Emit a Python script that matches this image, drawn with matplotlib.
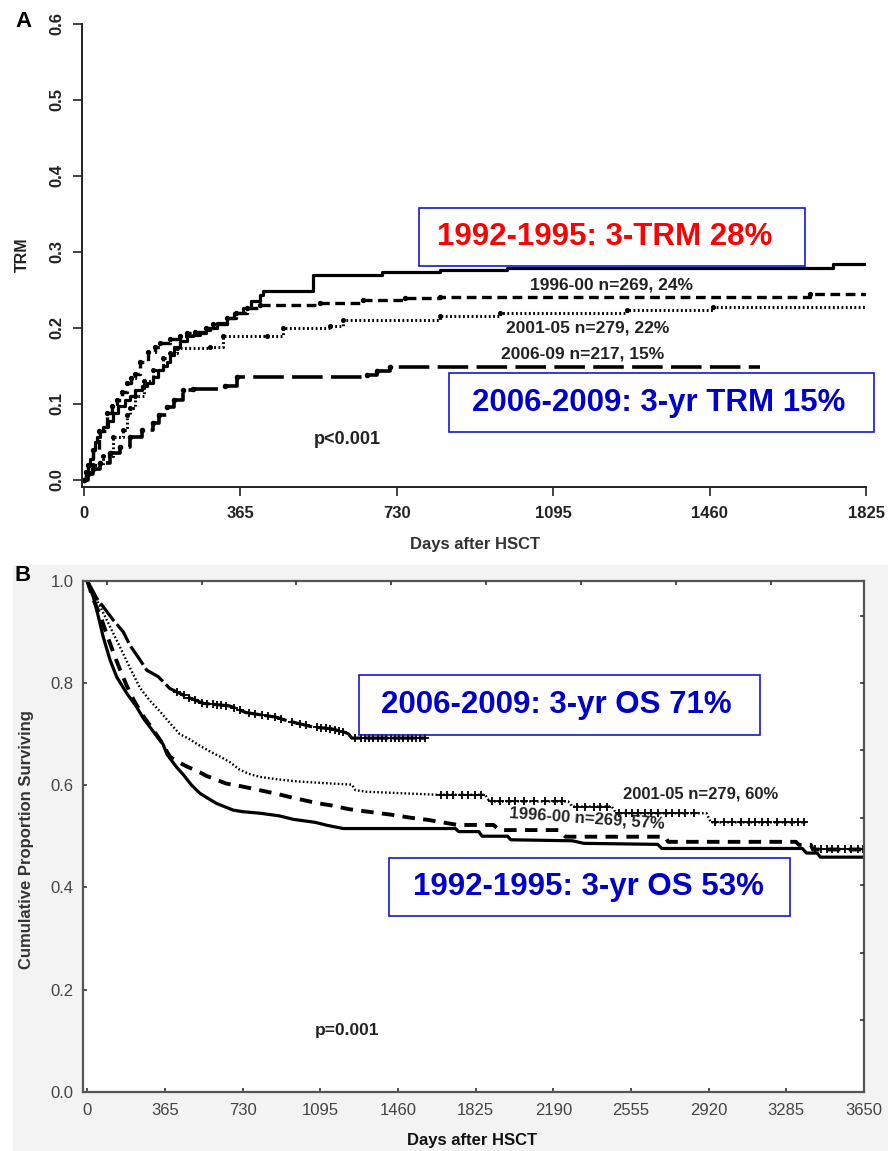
import numpy as np
import matplotlib
matplotlib.use("Agg")
import matplotlib.pyplot as plt
from matplotlib.patches import Rectangle

plt.rcParams['font.family'] = ['Liberation Sans', 'DejaVu Sans']
plt.rcParams['lines.scale_dashes'] = False

# ---------------- Panel A data: TRM (cumulative incidence) ----------------
a_xticks = [0, 365, 730, 1095, 1460, 1825]
a_yticks = [0.0, 0.1, 0.2, 0.3, 0.4, 0.5, 0.6]

a_9295_days = [0, 5, 10, 15, 20, 25, 30, 38, 45, 55, 68, 80, 95, 107, 120, 135, 146, 162, 173, 185,
               193, 200, 209, 225, 240, 255, 271, 285, 294, 310, 333, 350, 372, 390, 411, 418, 535,
               695, 830, 987, 1748, 1825]
a_9295_trm = [0, 0.008, 0.018, 0.028, 0.04, 0.05, 0.057, 0.064, 0.07, 0.078, 0.088, 0.097, 0.105,
              0.11, 0.118, 0.124, 0.128, 0.135, 0.145, 0.15, 0.155, 0.165, 0.175, 0.183, 0.189, 0.191,
              0.193, 0.197, 0.2, 0.206, 0.213, 0.219, 0.226, 0.235, 0.243, 0.248, 0.270, 0.273, 0.276,
              0.279, 0.284, 0.284]

a_9600_days = [0, 5, 10, 20, 35, 53, 65, 76, 88, 100, 110, 119, 131, 150, 165, 177, 200, 224, 240,
               260, 285, 300, 333, 355, 380, 411, 551, 652, 750, 830, 1694, 1825]
a_9600_trm = [0, 0.01, 0.02, 0.04, 0.065, 0.088, 0.097, 0.105, 0.116, 0.127, 0.134, 0.14, 0.155,
              0.168, 0.175, 0.18, 0.186, 0.19, 0.193, 0.195, 0.2, 0.205, 0.213, 0.22, 0.226, 0.23,
              0.233, 0.237, 0.239, 0.241, 0.245, 0.245]

a_0105_days = [0, 5, 20, 45, 68, 91, 100, 107, 120, 140, 160, 185, 200, 216, 294, 325, 426, 465,
               574, 605, 830, 971, 1267, 1468, 1825]
a_0105_trm = [0, 0.01, 0.02, 0.031, 0.057, 0.066, 0.085, 0.095, 0.11, 0.13, 0.145, 0.16, 0.167,
              0.173, 0.175, 0.189, 0.19, 0.2, 0.202, 0.21, 0.215, 0.219, 0.224, 0.228, 0.228]

a_0609_days = [0, 10, 20, 37, 60, 84, 107, 135, 162, 175, 193, 210, 232, 255, 330, 356, 660, 683,
               714, 1578]
a_0609_trm = [0, 0.008, 0.014, 0.022, 0.035, 0.044, 0.057, 0.066, 0.075, 0.085, 0.096, 0.105,
              0.118, 0.12, 0.123, 0.136, 0.138, 0.143, 0.148, 0.148]

# ---------------- Panel B data: overall survival ----------------
b_xticks = [0, 365, 730, 1095, 1460, 1825, 2190, 2555, 2920, 3285, 3650]
b_yticks = [0.0, 0.2, 0.4, 0.6, 0.8, 1.0]

b_9295_days = [0, 28, 52, 75, 107, 138, 185, 232, 263, 310, 356, 375, 389, 420, 452, 490, 529, 560,
               608, 686, 730, 811, 900, 968, 1072, 1130, 1203, 1730, 1745, 1840, 1855, 1975, 1990,
               2280, 2333, 2680, 2700, 3360, 3380, 3430, 3445, 3650]
b_9295_os = [1.0, 0.969, 0.93, 0.89, 0.845, 0.812, 0.78, 0.753, 0.731, 0.705, 0.68, 0.66, 0.652,
             0.635, 0.62, 0.60, 0.584, 0.576, 0.564, 0.551, 0.548, 0.545, 0.54, 0.533, 0.527, 0.521,
             0.515, 0.515, 0.509, 0.509, 0.5, 0.5, 0.493, 0.491, 0.486, 0.484, 0.476, 0.476, 0.467,
             0.467, 0.459, 0.459]

b_9600_days = [0, 30, 61, 90, 122, 150, 185, 220, 263, 310, 356, 375, 390, 420, 465, 529, 560, 610,
               653, 720, 811, 900, 968, 1077, 1150, 1228, 1300, 1430, 1522, 1600, 1741, 1909, 1937,
               2216, 2247, 2714, 2730, 3330, 3345, 3400, 3410, 3650]
b_9600_os = [1.0, 0.962, 0.932, 0.897, 0.86, 0.83, 0.795, 0.765, 0.735, 0.708, 0.68, 0.665, 0.655,
             0.647, 0.637, 0.625, 0.618, 0.61, 0.603, 0.598, 0.59, 0.582, 0.575, 0.565, 0.56, 0.553,
             0.549, 0.542, 0.536, 0.532, 0.522, 0.522, 0.512, 0.512, 0.499, 0.499, 0.489, 0.489,
             0.483, 0.483, 0.474, 0.474]

b_0105_days = [0, 15, 35, 60, 107, 154, 200, 248, 295, 340, 389, 434, 480, 529, 580, 623, 670, 717,
               760, 811, 900, 994, 1150, 1243, 1260, 1313, 1539, 1650, 1870, 1890, 2260, 2280, 2465,
               2485, 2910, 2930, 3375]
b_0105_os = [1.0, 0.985, 0.97, 0.95, 0.91, 0.87, 0.83, 0.79, 0.765, 0.745, 0.721, 0.70, 0.69, 0.677,
             0.665, 0.656, 0.645, 0.63, 0.622, 0.616, 0.611, 0.607, 0.603, 0.601, 0.59, 0.587, 0.583,
             0.581, 0.581, 0.568, 0.568, 0.558, 0.558, 0.545, 0.545, 0.527, 0.527]

b_0609_days = [0, 16, 45, 75, 122, 169, 200, 248, 279, 334, 388, 467, 545, 668, 700, 745, 886, 932,
               979, 1057, 1150, 1212, 1228, 1243, 1586]
b_0609_os = [1.0, 0.988, 0.965, 0.949, 0.923, 0.90, 0.874, 0.845, 0.825, 0.812, 0.789, 0.773, 0.76,
             0.755, 0.75, 0.742, 0.733, 0.727, 0.722, 0.714, 0.71, 0.703, 0.70, 0.692, 0.692]

# censored observations (days)
b_0609_cens = [420, 455, 480, 505, 540, 565, 590, 610, 630, 650, 690, 720, 760, 790, 820, 850, 880,
               910, 960, 1000, 1030, 1080, 1100, 1120, 1140, 1165, 1185, 1200, 1260, 1285, 1305, 1325,
               1345, 1365, 1385, 1405, 1425, 1445, 1465, 1485, 1505, 1525, 1545, 1565, 1585]
b_0105_cens = [1660, 1690, 1720, 1760, 1790, 1820, 1850, 1900, 1940, 1980, 2010, 2050, 2100, 2150,
               2200, 2230, 2300, 2340, 2380, 2410, 2440, 2500, 2530, 2560, 2590, 2620, 2650, 2680,
               2720, 2750, 2780, 2810, 2850, 2950, 2990, 3030, 3070, 3110, 3140, 3170, 3200, 3240,
               3280, 3310, 3340, 3370]
b_9600_cens = [3420, 3450, 3475, 3500, 3530, 3560, 3590, 3620, 3645]

# decorative frame ticks on panel B (top / right)
b_top_ticks = [91, 537, 983, 1429, 1875, 2321, 2767, 3213]
b_right_ticks = [0.931, 0.799, 0.668, 0.536, 0.404, 0.272, 0.141]

W, H = 888, 1151


def fx(px):
    return px / W


def fy(py):
    return 1 - py / H


fig = plt.figure(figsize=(W / 100, H / 100), dpi=100)
fig.patch.set_facecolor('white')
bg = Rectangle((fx(13), 0), 1 - fx(13), fy(565), transform=fig.transFigure,
               facecolor='#f3f3f3', edgecolor='none', zorder=-10)
fig.patches.append(bg)

# ======================= Panel A =======================
axA = fig.add_axes([fx(82), fy(487), fx(866) - fx(82), (487 - 23.7) / H])
axA.set_xlim(-4.7, 1825)
axA.set_ylim(-0.0092, 0.6)
for s in ['top', 'right']:
    axA.spines[s].set_visible(False)
for s in ['left', 'bottom']:
    axA.spines[s].set_linewidth(1.4)
    axA.spines[s].set_color('#222222')

axA.plot(a_9295_days, a_9295_trm, drawstyle='steps-post', color='black', lw=2.3)
axA.plot(a_9600_days, a_9600_trm, drawstyle='steps-post', color='black', lw=2.4,
         linestyle=(0, (7, 4)))
axA.plot(a_9600_days[:-1], a_9600_trm[:-1], 'o', color='black', ms=2.8)
axA.plot(a_0105_days, a_0105_trm, drawstyle='steps-post', color='black', lw=2.2,
         linestyle=(0, (1.3, 1.8)))
axA.plot(a_0105_days[:-1], a_0105_trm[:-1], 'o', color='black', ms=2.6)
axA.plot(a_0609_days, a_0609_trm, drawstyle='steps-post', color='black', lw=2.6,
         linestyle=(0, (22, 6)))
axA.plot(a_0609_days[:-1], a_0609_trm[:-1], 'o', color='black', ms=3.0)

axA.set_xticks(a_xticks)
axA.set_xticklabels([str(v) for v in a_xticks])
axA.set_yticks(a_yticks)
axA.set_yticklabels([f"{v:.1f}" for v in a_yticks])
axA.tick_params(axis='x', direction='out', length=6.5, width=1.2, pad=7, labelsize=12,
                labelcolor='#222222', color='#222222')
axA.tick_params(axis='y', direction='out', length=6.5, width=1.2, pad=6, labelsize=12,
                labelcolor='#222222', color='#222222')
for t in axA.get_xticklabels() + axA.get_yticklabels():
    t.set_fontweight('bold')
for t in axA.get_yticklabels():
    t.set_rotation(90)
    t.set_va('center')

fig.text(fx(475), fy(545), 'Days after HSCT', ha='center', va='center', fontsize=12,
         fontweight='bold', color='#333333')
fig.text(fx(22), fy(255), 'TRM', ha='center', va='center', rotation=90, fontsize=11.5,
         fontweight='bold', color='#222222')
fig.text(fx(23.5), fy(21.5), 'A', ha='center', va='center', fontsize=16, fontweight='bold')

# boxes panel A
fig.patches.append(Rectangle((fx(419), fy(266)), fx(805) - fx(419), (266 - 207.5) / H,
                             transform=fig.transFigure, facecolor='none', edgecolor='#1515dd',
                             lw=1.2, zorder=5))
fig.text(fx(605), fy(237), '1992-1995: 3-TRM 28%', ha='center', va='center', fontsize=22.5,
         fontweight='bold', color='#ff0000', zorder=6)
fig.patches.append(Rectangle((fx(449), fy(432)), fx(874) - fx(449), (432 - 373) / H,
                             transform=fig.transFigure, facecolor='none', edgecolor='#1515dd',
                             lw=1.2, zorder=5))
fig.text(fx(659), fy(403), '2006-2009: 3-yr TRM 15%', ha='center', va='center', fontsize=22.5,
         fontweight='bold', color='#0000cc', zorder=6)

fig.text(fx(611), fy(285), '1996-00 n=269, 24%', ha='center', va='center', fontsize=12.5,
         fontweight='bold', color='#222222')
fig.text(fx(588), fy(328), '2001-05 n=279, 22%', ha='center', va='center', fontsize=12.5,
         fontweight='bold', color='#222222')
fig.text(fx(583), fy(354), '2006-09 n=217, 15%', ha='center', va='center', fontsize=12.5,
         fontweight='bold', color='#222222')
fig.text(fx(347), fy(440), 'p<0.001', ha='center', va='center', fontsize=13,
         fontweight='bold', color='#222222')

# ======================= Panel B =======================
axB = fig.add_axes([fx(83), fy(1091.7), fx(864) - fx(83), 511 / H])
axB.set_zorder(1)
axB.set_facecolor('white')
axB.set_xlim(-20, 3650)
axB.set_ylim(0, 1)
for s in axB.spines.values():
    s.set_linewidth(1.6)
    s.set_color('#555555')


def curve_value(days, vals, t):
    return float(np.interp(t, days, vals))


axB.plot(b_9295_days, b_9295_os, color='black', lw=2.3)
axB.plot(b_9600_days, b_9600_os, color='black', lw=2.8, linestyle=(0, (9, 6)))
axB.plot(b_0105_days, b_0105_os, color='black', lw=1.7, linestyle=(0, (1.2, 1.6)))
axB.plot(b_0609_days, b_0609_os, color='black', lw=2.3, linestyle=(0, (16, 3)))

axB.plot(b_0609_cens, [curve_value(b_0609_days, b_0609_os, t) for t in b_0609_cens], '+',
         color='black', ms=6, mew=1.3)
axB.plot(b_0105_cens, [curve_value(b_0105_days, b_0105_os, t) for t in b_0105_cens], '+',
         color='black', ms=6, mew=1.3)
axB.plot(b_9600_cens, [curve_value(b_9600_days, b_9600_os, t) for t in b_9600_cens], '+',
         color='black', ms=6, mew=1.3)

axB.set_xticks(b_xticks)
axB.set_xticklabels([str(v) for v in b_xticks])
axB.set_yticks(b_yticks)
axB.set_yticklabels([f"{v:.1f}" for v in b_yticks])
axB.tick_params(axis='both', direction='in', length=3, width=1.2, color='#333333',
                labelsize=12, labelcolor='#444444')
axB.tick_params(axis='x', pad=8)
axB.tick_params(axis='y', pad=7)

axT = axB.twiny()
axT.set_xlim(axB.get_xlim())
axT.set_xticks(b_top_ticks)
axT.set_xticklabels([])
axT.tick_params(axis='x', direction='in', length=3, width=1.2, color='#333333')
axR = axB.twinx()
axR.set_ylim(axB.get_ylim())
axR.set_yticks(b_right_ticks)
axR.set_yticklabels([])
axR.tick_params(axis='y', direction='in', length=3, width=1.2, color='#333333')
for a in (axT, axR):
    a.patch.set_visible(False)
    for s in a.spines.values():
        s.set_visible(False)

fig.text(fx(472), fy(1141), 'Days after HSCT', ha='center', va='center', fontsize=12,
         fontweight='bold', color='#111111')
fig.text(fx(27), fy(840), 'Cumulative Proportion Surviving', ha='center', va='center',
         rotation=90, fontsize=12, fontweight='bold', color='#333333')
fig.text(fx(23), fy(575), 'B', ha='center', va='center', fontsize=16, fontweight='bold')

fig.patches.append(Rectangle((fx(359), fy(735)), fx(760) - fx(359), (735 - 675) / H,
                             transform=fig.transFigure, facecolor='none', edgecolor='#1515dd',
                             lw=1.2, zorder=5))
fig.text(fx(556), fy(705), '2006-2009: 3-yr OS 71%', ha='center', va='center', fontsize=22.5,
         fontweight='bold', color='#0000cc', zorder=6)
fig.patches.append(Rectangle((fx(389), fy(916)), fx(790) - fx(389), (916 - 858) / H,
                             transform=fig.transFigure, facecolor='none', edgecolor='#1515dd',
                             lw=1.2, zorder=5))
fig.text(fx(588), fy(887), '1992-1995: 3-yr OS 53%', ha='center', va='center', fontsize=22.5,
         fontweight='bold', color='#0000cc', zorder=6)

fig.text(fx(701), fy(794), '2001-05 n=279, 60%', ha='center', va='center', fontsize=12,
         fontweight='bold', color='#222222', zorder=6)
fig.text(fx(587), fy(818), '1996-00 n=269, 57%', ha='center', va='center', fontsize=12,
         fontweight='bold', color='#222222', rotation=-4, zorder=6)
fig.text(fx(347), fy(1030), 'p=0.001', ha='center', va='center', fontsize=12.5,
         fontweight='bold', color='#222222', zorder=6)

fig.savefig('out.png', dpi=100)
